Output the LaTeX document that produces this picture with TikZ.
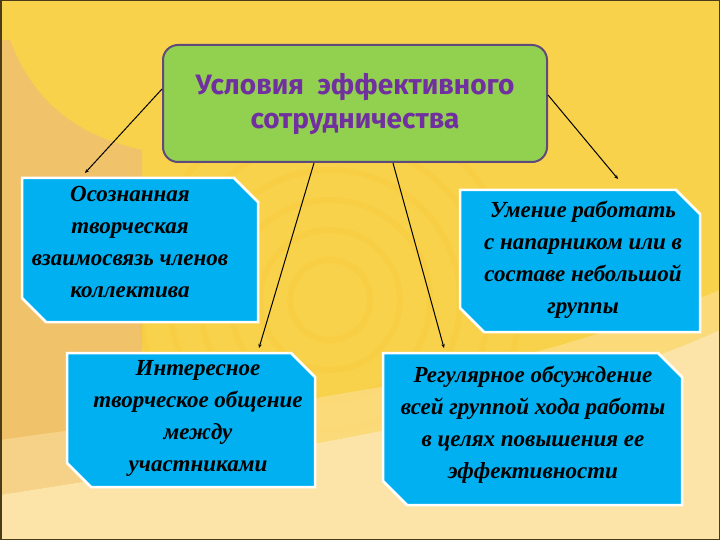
\documentclass[tikz,border=0pt]{standalone}
\usepackage{fontspec}
\setmainfont{Liberation Serif}
\newfontfamily\titlefont{Fira Sans}
\usetikzlibrary{arrows.meta,calc}
\definecolor{bgyellow}{HTML}{F8D24A}
\definecolor{bgtan}{HTML}{F0C26A}
\definecolor{bgpale}{HTML}{FCE3A8}
\definecolor{frame}{HTML}{4A3C18}
\definecolor{titlegreen}{HTML}{92D050}
\definecolor{titleborder}{HTML}{604A7B}
\definecolor{titletext}{HTML}{7030A0}
\definecolor{boxblue}{HTML}{00B0F0}
\tikzset{
  boxtxt/.style={align=center, font=\fontsize{23}{32}\selectfont\bfseries\itshape, text=black, inner sep=0},
  boxshape/.style={fill=boxblue, draw=white, line width=2.5pt, line join=miter},
  conn/.style={draw=black, line width=1pt, -{Stealth[length=4pt,width=3.5pt]}},
}
\newcommand\cutbox[7]{% name, x1, y1, x2, y2, textcenter, text
  \path[boxshape] (#2,#3) -- (#4-24,#3) -- (#4,#3+24) -- (#4,#5) -- (#2+24,#5) -- (#2,#5-24) -- cycle;
  \node[boxtxt] (#1) at (#6) {#7};
}
\begin{document}
\begin{tikzpicture}[x=1pt,y=-1pt]
\useasboundingbox (0,0) rectangle (720,540);
% background
\fill[bgyellow] (0,0) rectangle (720,540);
\fill[bgtan] (10,40) .. controls (40,120) and (100,140) .. (142,150) -- (142,540) -- (0,540) -- (0,40) -- cycle;
\foreach \r in {40,70,100,130,160,190}
  \draw[orange!60!yellow, opacity=0.08, line width=6pt] (330,300) circle (\r);
\fill[bgpale] (0,495) .. controls (250,455) and (520,420) .. (720,330) -- (720,540) -- (0,540) -- cycle;
\fill[bgpale, opacity=0.5] (0,440) .. controls (200,410) and (450,400) .. (720,290) -- (720,330) .. controls (520,420) and (250,455) .. (0,495) -- cycle;
\draw[frame, line width=3pt] (0,0) rectangle (720,540);

% title
\node[fill=titlegreen, draw=titleborder, line width=2pt, rounded corners=15pt,
      minimum width=384pt, minimum height=117pt, inner sep=0] (title) at (355,103.5) {};
\node[align=center, font=\titlefont\fontsize{28}{34}\selectfont\bfseries, text=titletext, inner sep=0] (titletxt) at (355,104) {Условия \ эффективного\\ сотрудничества};

% boxes
\coordinate (c1) at (130,242);
\coordinate (c2) at (583,260);
\coordinate (c3) at (198,418);
\coordinate (c4) at (533,425);
\cutbox{b1}{22}{178}{258}{322}{c1}{Осознанная\\ творческая\\ взаимосвязь членов\\ коллектива}
\cutbox{b2}{460}{190}{700}{332}{c2}{Умение работать\\ с напарником или в\\ составе небольшой\\ группы}
\cutbox{b3}{67}{353}{315}{487}{c3}{Интересное\\ творческое общение\\ между\\ участниками}
\cutbox{b4}{383}{353}{682}{505}{c4}{Регулярное обсуждение\\ всей группой хода работы\\ в целях повышения ее\\ эффективности}

% connector ends
\coordinate (e1) at (85,173);
\coordinate (e2) at (259,348);
\coordinate (e3) at (444,348);
\coordinate (e4) at (618,179);
\draw[conn] ($(title.north west)+(0,45)$) -- (e1);
\draw[conn] ($(title.south west)+(152,0)$) -- (e2);
\draw[conn] ($(title.south west)+(231,0)$) -- (e3);
\draw[conn] ($(title.north east)+(0,51)$) -- (e4);
\end{tikzpicture}
\end{document}
